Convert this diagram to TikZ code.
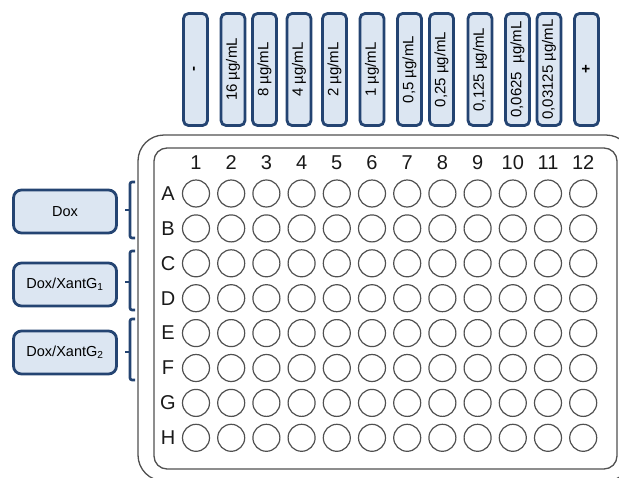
\documentclass[tikz,border=0pt]{standalone}
\usepackage{fontspec}
\setmainfont{Liberation Sans}
\definecolor{bfill}{RGB}{220,230,242}
\definecolor{bdraw}{RGB}{36,68,114}
\definecolor{plate}{RGB}{80,80,80}
\tikzset{
  topbox/.style={draw=bdraw, fill=bfill, line width=2.8pt, rounded corners=5pt, rotate=90,
    minimum width=112pt, minimum height=24pt, inner sep=0pt, font=\fontsize{15}{15}\selectfont},
  sidebox/.style={draw=bdraw, fill=bfill, line width=2.8pt, rounded corners=8pt,
    minimum width=103pt, minimum height=43pt, inner sep=0pt, font=\fontsize{14.5}{15}\selectfont},
  brace/.style={draw=bdraw, line width=2.6pt, rounded corners=2pt},
  well/.style={draw=plate, line width=1.2pt, circle, minimum size=27pt, inner sep=0pt},
  lab/.style={font=\fontsize{20}{20}\selectfont, inner sep=0pt, text=black!90},
  platebox/.style={draw=plate, line width=1.3pt}
}
\begin{document}
\begin{tikzpicture}[x=1pt,y=-1pt]
\useasboundingbox (0,0) rectangle (619,477);
\clip (0,0) rectangle (619,477);
% plate
\draw[platebox, rounded corners=26pt] (138,135) rectangle (632,481);
\draw[platebox, rounded corners=13pt] (154,148) rectangle (617,469);
% top boxes
\foreach \x/\t/\n in {195.5/{\bfseries -}/c0, 233/{16 µg/mL}/c1, 264.5/{8 µg/mL}/c2, 299/{4 µg/mL}/c3, 334.5/{2 µg/mL}/c4,
  372/{1 µg/mL}/c5, 409.5/{0,5 µg/mL}/c6, 441.5/{0,25 µg/mL}/c7, 480/{0,125 µg/mL}/c8,
  517.5/{0,0625\ \ µg/mL}/c9, 549/{0,03125 µg/mL}/c10, 586.5/{\bfseries +}/c11}
  \node[topbox] (\n) at (\x,69.5) {\t};
% side boxes
\node[sidebox] (dox) at (65,211.5) {Dox};
\node[sidebox] (dx1) at (65,284.5) {Dox/XantG\textsubscript{1}};
\node[sidebox] (dx2) at (65,352.5) {Dox/XantG\textsubscript{2}};
% braces
\foreach \a/\b/\m/\n in {182/238/210/b1, 251/310/282/b2, 319/380/352/b3}{
  \coordinate (\n t) at (131,\m);
  \draw[brace] (135,\a) -- (130,\a) -- (130,\b) -- (135,\b);
  \draw[brace] (130,\m) -- (125,\m);
}
% column labels
\foreach \i in {1,...,12}
  \node[lab] (col\i) at ({196+35.2*(\i-1)},163) {\i};
% rows and wells
\foreach \r [count=\j] in {A,B,C,D,E,F,G,H}{
  \node[lab] (row\r) at (168,{193.5+34.9*(\j-1)}) {\r};
  \foreach \i in {1,...,12}
    \node[well] (w\r\i) at ({196+35.2*(\i-1)},{193.5+34.9*(\j-1)}) {};
}
\end{tikzpicture}
\end{document}
